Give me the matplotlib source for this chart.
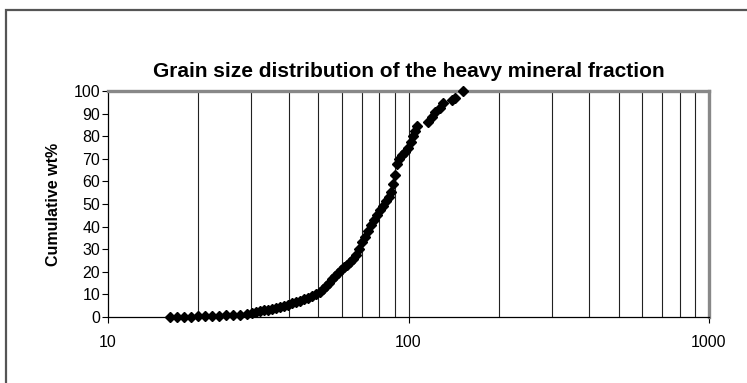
import matplotlib.pyplot as plt
from matplotlib.patches import Rectangle
from matplotlib.ticker import FixedLocator, NullFormatter

plt.rcParams['font.family'] = ['Liberation Sans', 'DejaVu Sans']

# grain size (micron) vs cumulative weight percent
grain_size = [
    16.1, 17.0, 17.9, 18.9, 19.9, 21.0, 22.2, 23.4, 24.7, 26.1, 27.5, 29.0,
    30.2, 31.1, 32.1, 33.0, 34.1, 35.1, 36.2, 37.4, 38.5, 39.7, 41.0, 42.2,
    43.6, 44.9, 46.3, 47.7, 49.2, 50.8, 51.9, 53.2, 54.4, 55.7, 56.9, 58.3,
    59.6, 61.0, 62.4, 63.9, 65.4, 66.9, 68.4, 70.0, 71.7, 73.3, 75.0, 76.8,
    78.6, 80.4, 82.3, 84.2, 86.1, 87.5, 88.8, 90.2, 91.6, 93.0, 95.2, 97.4,
    99.6, 101.9, 103.5, 105.1, 106.7,
    116.1, 119.7, 122.5, 127.3, 130.3, 139.6, 142.8, 151.8,
]
cum_wt = [
    0.0, 0.0, 0.1, 0.2, 0.3, 0.4, 0.5, 0.6, 0.7, 0.9, 1.1, 1.4,
    1.9, 2.2, 2.5, 2.9, 3.2, 3.6, 4.1, 4.5, 5.0, 5.5, 6.1, 6.7,
    7.3, 7.9, 8.5, 9.2, 10.0, 11.0, 12.2, 13.6, 15.0, 16.6, 18.0, 19.5,
    20.8, 22.0, 23.2, 24.3, 25.8, 27.5, 30.0, 33.0, 35.5, 38.0, 40.5, 42.8,
    45.0, 47.3, 49.3, 51.3, 53.3, 55.5, 59.0, 63.0, 67.5, 70.0, 71.5, 73.0,
    75.0, 77.5, 80.0, 82.5, 84.5,
    86.4, 88.6, 90.8, 92.5, 94.7, 96.0, 96.9, 100.0,
]

fig = plt.figure(figsize=(7.47, 3.83), dpi=100)
W, H = 747, 383

# outer chart border (runs off the right and bottom edges)
fig.patches.append(Rectangle((5.5 / W, -0.05), 1.1, 1 - 10.5 / H + 0.05,
                             transform=fig.transFigure, fill=False,
                             edgecolor='#555555', linewidth=1.6))

ax = fig.add_axes([108 / W, 1 - 317 / H, 601 / W, 226 / H])
ax.set_xscale('log')
ax.set_xlim(10, 1000)
ax.set_ylim(0, 100)

# vertical grid at every log step
grid_x = [v * d for d in (10, 100) for v in range(2, 11)]
for gx in grid_x[:-1]:
    ax.axvline(gx, color='#222222', linewidth=0.8, zorder=1)

ax.plot(grain_size, cum_wt, linestyle='none', marker='D', markersize=5,
        color='black', zorder=3, clip_on=False)

ax.xaxis.set_major_locator(FixedLocator([10, 100, 1000]))
ax.xaxis.set_minor_locator(FixedLocator([]))
ax.xaxis.set_minor_formatter(NullFormatter())
ax.set_xticklabels(['10', '100', '1000'])
ax.set_yticks(range(0, 101, 10))

ax.tick_params(axis='both', direction='out', length=4, width=0.8,
               labelsize=11.5, colors='black')
ax.tick_params(axis='x', pad=9)
ax.tick_params(axis='y', pad=1.5)

for side in ('left', 'bottom'):
    ax.spines[side].set_linewidth(0.9)
    ax.spines[side].set_color('black')
for side in ('top', 'right'):
    ax.spines[side].set_linewidth(2.4)
    ax.spines[side].set_color('#888888')

ax.set_ylabel('Cumulative wt%', fontsize=11.5, fontweight='bold', labelpad=9)
ax.set_title('Grain size distribution of the heavy mineral fraction',
             fontsize=15, fontweight='bold', pad=10)

fig.savefig('out.png', dpi=100)
